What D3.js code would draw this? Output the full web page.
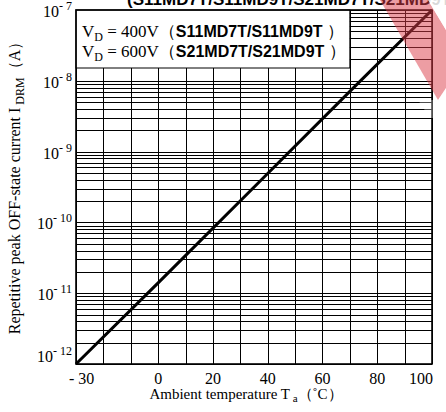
<!DOCTYPE html>
<html>
<head>
<meta charset="utf-8">
<script src="https://cdn.jsdelivr.net/npm/d3@7"></script>
<style>
  html, body { margin: 0; padding: 0; background: #fff; }
  svg { display: block; }
  text { font-family: "Liberation Serif", "Times New Roman", serif; fill: #000; }
  .bold { font-family: "Liberation Sans", Arial, sans-serif; font-weight: bold; }
</style>
</head>
<body>
<svg id="chart" width="446" height="412"></svg>
<script>
// chart values
let tempGrid = [-30, -20, -10, 0, 10, 20, 30, 40, 50, 60, 70, 80, 90, 100];
let tempLabels = [-30, 0, 20, 40, 60, 80, 100];
let decades = [1e-12, 1e-11, 1e-10, 1e-9, 1e-8, 1e-7];
let decadeExp = [-12, -11, -10, -9, -8, -7];
let minorSteps = [2, 3, 4, 5, 6, 7, 8, 9];

// I_DRM vs Ta (straight line on the log grid)
let temps = [-30, 0, 40, 70, 100];
let idrm = [1e-12, 1.4e-11, 4.9e-10, 7.1e-9, 1e-7];

let legendLines = [
	{ pre: "V", sub: "D", mid: " = 400V（", part: "S11MD7T/S11MD9T", post: " ）" },
	{ pre: "V", sub: "D", mid: " = 600V（", part: "S21MD7T/S21MD9T", post: " ）" }
];
let titleText = "(S11MD7T/S11MD9T/S21MD7T/S21MD9T)";

/////////////////////////////////////////////////////////
let plot = { left: 76, right: 432, top: 10, bottom: 364 };

let x = d3.scaleLinear().domain([-30, 100]).range([plot.left, plot.right]);
let y = d3.scaleLog().domain([1e-12, 1e-7]).range([plot.bottom, plot.top]);

let svg = d3.select("#chart");

// title, cut at the top of the picture
svg.append("text").attr("class", "bold")
	.attr("x", 127).attr("y", 5)
	.attr("font-size", 17)
	.text(titleText);

// grid
let minor = [];
decades.slice(0, -1).forEach(function(d) {
	minorSteps.forEach(function(k) { minor.push(d * k); });
});

let grid = svg.append("g").attr("stroke", "#000").attr("stroke-width", 1);
grid.selectAll("line.h").data(decades.concat(minor)).enter().append("line")
	.attr("x1", plot.left).attr("x2", plot.right)
	.attr("y1", function(d) { return Math.round(y(d)) + 0.5; })
	.attr("y2", function(d) { return Math.round(y(d)) + 0.5; });
grid.selectAll("line.v").data(tempGrid).enter().append("line")
	.attr("y1", plot.top).attr("y2", plot.bottom)
	.attr("x1", function(d) { return Math.round(x(d)) + 0.5; })
	.attr("x2", function(d) { return Math.round(x(d)) + 0.5; });

// legend box over the grid
let box = svg.append("g");
box.append("rect")
	.attr("x", plot.left).attr("y", plot.top)
	.attr("width", x(70) - plot.left).attr("height", 58)
	.attr("fill", "#fff").attr("stroke", "#000").attr("stroke-width", 1);

legendLines.forEach(function(l, i) {
	let t = box.append("text")
		.attr("x", 82).attr("y", 37 + i * 20)
		.attr("font-size", 17);
	t.append("tspan").text(l.pre);
	t.append("tspan").attr("font-size", 12).attr("dy", 4).text(l.sub);
	t.append("tspan").attr("dy", -4).text(l.mid);
	t.append("tspan").attr("class", "bold").attr("font-size", 16).text(l.part);
	t.append("tspan").text(l.post);
});

// frame
svg.append("rect")
	.attr("x", plot.left).attr("y", plot.top)
	.attr("width", plot.right - plot.left).attr("height", plot.bottom - plot.top)
	.attr("fill", "none").attr("stroke", "#000").attr("stroke-width", 1.6);

// data line
let line = d3.line()
	.x(function(d, i) { return x(temps[i]); })
	.y(function(d) { return y(d); });
svg.append("path").datum(idrm)
	.attr("d", line)
	.attr("fill", "none").attr("stroke", "#000").attr("stroke-width", 3);

// x labels
let last = tempLabels.length - 1;
svg.append("g").selectAll("text").data(tempLabels).enter().append("text")
	.attr("x", function(d, i) { return i == 0 ? x(d) - 7 : (i == last ? x(d) + 1 : x(d)); })
	.attr("y", 384)
	.attr("text-anchor", function(d, i) { return i == 0 ? "start" : (i == last ? "end" : "middle"); })
	.attr("font-size", 16)
	.text(function(d) { return d < 0 ? "- " + Math.abs(d) : d; });

// y labels
let yl = svg.append("g").selectAll("text").data(decades).enter().append("text")
	.attr("x", 72)
	.attr("y", function(d, i) { return i == 0 ? y(d) - 2 : y(d) + 7; })
	.attr("text-anchor", "end")
	.attr("font-size", 16);
yl.append("tspan").text("10");
yl.append("tspan").attr("font-size", 12).attr("dy", -7)
	.text(function(d, i) { return "- " + Math.abs(decadeExp[i]); });

// axis titles
let xt = svg.append("text")
	.attr("x", 246).attr("y", 399)
	.attr("text-anchor", "middle").attr("font-size", 15);
xt.append("tspan").text("Ambient temperature T");
xt.append("tspan").attr("font-size", 11).attr("dy", 3).text(" a");
xt.append("tspan").attr("dy", -3).text("（˚C）");

let yt = svg.append("text")
	.attr("transform", "translate(20,184) rotate(-90)")
	.attr("text-anchor", "middle").attr("font-size", 16);
yt.append("tspan").text("Repetitive peak OFF-state current I");
yt.append("tspan").attr("font-size", 12).attr("dy", 4).text(" DRM");
yt.append("tspan").attr("dy", -4).text("（A）");

// red stamp corner at the top right
svg.append("polygon")
	.attr("points", "380,0 428,0 446,30 446,88 438,100")
	.attr("fill", "#dc3c48").attr("opacity", 0.5);
svg.append("polygon")
	.attr("points", "428,0 446,0 446,30")
	.attr("fill", "#fff").attr("opacity", 0.85);
svg.append("polygon")
	.attr("points", "418,100 438,100 446,88 446,118 430,118")
	.attr("fill", "#fff").attr("opacity", 0.3);
</script>
</body>
</html>
